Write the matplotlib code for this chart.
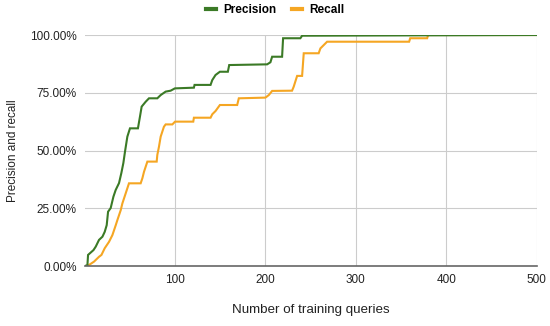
import matplotlib
matplotlib.use("Agg")
import matplotlib.pyplot as plt
from matplotlib.ticker import FuncFormatter

plt.rcParams['font.family'] = ['Liberation Sans', 'DejaVu Sans']

prec_x = [1, 3.7, 4.4, 10.4, 12.9, 16.5, 20.3, 22.8, 25.0, 26.5, 29.4, 32.4, 34.9, 38.6,
          41.2, 43.4, 45.2, 47.8, 50.7, 59.5, 61.7, 63.6, 68.0, 71.7, 80.9, 84.6, 90.1,
          95.6, 100.3, 121.3, 122, 139.7, 141.6, 145.2, 150, 158.8, 160.3, 202.2, 205.8,
          207.7, 218.7, 219.8, 238.9, 240.8, 500]
prec_y = [0, 0.4, 4.8, 6.9, 8.4, 11.3, 12.7, 14.8, 17.7, 23.5, 25.1, 30.0, 32.9, 35.9,
          40.3, 44.6, 49.5, 56.0, 59.6, 59.6, 64.6, 69.0, 71.1, 72.6, 72.6, 74.0, 75.5,
          75.9, 76.9, 77.2, 78.4, 78.4, 80.5, 82.7, 84.1, 84.1, 87.0, 87.3, 88.2,
          90.6, 90.6, 98.6, 98.6, 99.7, 100]

rec_x = [1, 3.7, 11.0, 16.5, 19.2, 22.8, 27.6, 31.3, 35.0, 36.8, 40.5, 42.3, 46.0, 49.6,
         62.5, 64.4, 66.2, 69.9, 80.2, 80.9, 82.7, 84.6, 88.2, 90.1, 97.5, 100.5, 120.6,
         121.3, 139.7, 141.6, 145.2, 150, 169.1, 170.9, 200.3, 204, 207.7, 229.7, 231.5,
         235.3, 240.8, 242.6, 259.1, 261, 268.4, 359, 360.2, 378.9, 380, 500]
rec_y = [0, 0, 1.9, 4.0, 4.8, 7.7, 10.5, 13.4, 17.7, 19.9, 24.2, 27.1, 31.5, 35.8,
         35.8, 38.0, 40.8, 45.2, 45.2, 48.1, 51.6, 56.0, 60.3, 61.3, 61.3, 62.5, 62.5,
         64.2, 64.2, 65.7, 67.1, 69.7, 69.7, 72.6, 72.9, 74.0, 75.8, 75.9, 77.6,
         82.3, 82.3, 92.1, 92.1, 94.2, 97.1, 97.1, 98.6, 98.6, 100, 100]

x_ticks = [100, 200, 300, 400, 500]
y_ticks = [0, 25, 50, 75, 100]

fig = plt.figure(figsize=(5.5, 3.26), dpi=100)
ax = fig.add_axes([0.1545, 0.184, 0.8215, 0.7086])

green = '#3b7a26'
orange = '#f5a623'
ax.plot(rec_x, rec_y, color=orange, lw=1.5, label='Recall', zorder=3, solid_joinstyle='miter')
ax.plot(prec_x, prec_y, color=green, lw=1.5, label='Precision', zorder=4, solid_joinstyle='miter')

ax.set_xlim(1, 500)
ax.set_ylim(0, 100)
ax.set_xticks(x_ticks)
ax.set_yticks(y_ticks)
ax.yaxis.set_major_formatter(FuncFormatter(lambda v, p: f"{v:.2f}%"))
ax.grid(True, color='#cccccc', lw=0.8)
ax.set_axisbelow(True)
for s in ['top', 'right', 'left']:
    ax.spines[s].set_visible(False)
ax.spines['bottom'].set_color('#666666')
ax.spines['bottom'].set_linewidth(1.2)
ax.spines['bottom'].set_zorder(5)
ax.tick_params(length=0, labelsize=8.5, colors='#222222', pad=6)
ax.tick_params(axis='x', pad=6)

ax.set_xlabel('Number of training queries', fontsize=9.6, color='#222222', labelpad=13)
ax.set_ylabel('Precision and recall', fontsize=8.5, color='#222222', labelpad=8)

handles, labels = ax.get_legend_handles_labels()
leg = fig.legend(handles[::-1], labels[::-1], loc='upper center', bbox_to_anchor=(0.5, 1.02),
                 ncol=2, frameon=False, prop={'weight': 'bold', 'size': 8.5},
                 handlelength=0.85, handletextpad=0.6, columnspacing=1.3)
for l in leg.get_lines():
    l.set_linewidth(3)

fig.savefig('out.png', dpi=100)
